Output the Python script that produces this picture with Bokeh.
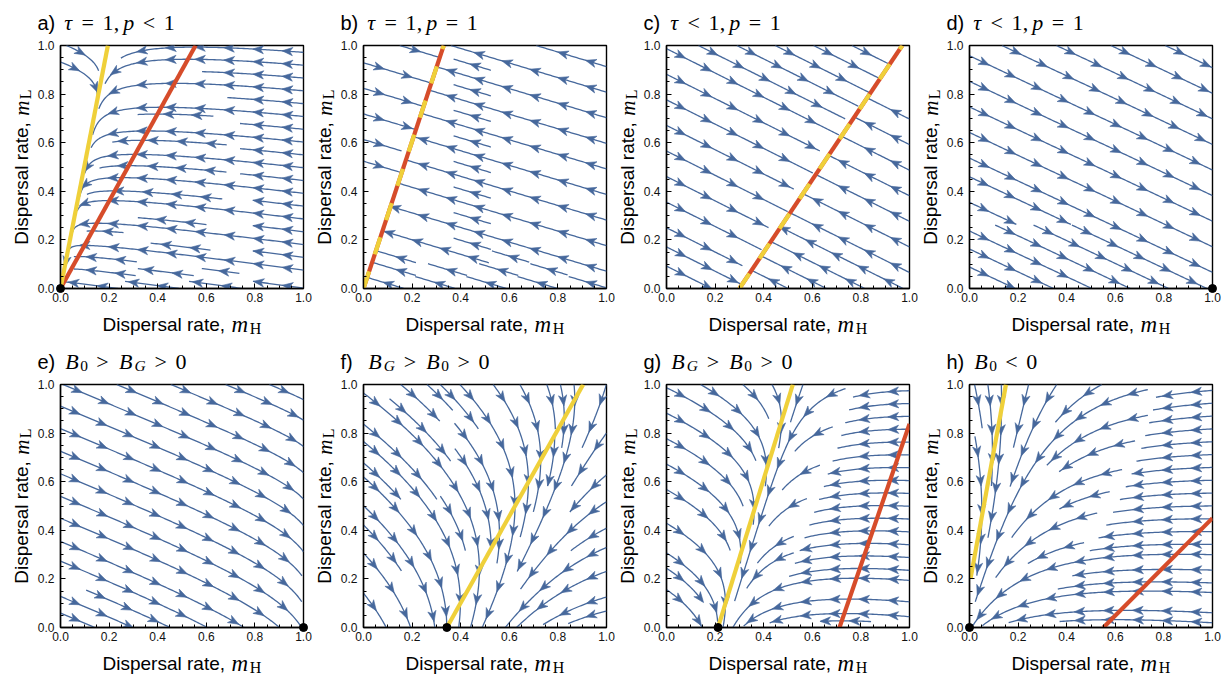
import numpy as np
from math import pi, hypot
from bokeh.plotting import figure
from bokeh.models import Range1d, FixedTicker, PrintfTickFormatter
from bokeh.core.properties import value
from bokeh.layouts import column, row
from bokeh.embed import file_html
from bokeh.resources import INLINE

# ---------------- data ----------------
panel_letters = ["a)", "b)", "c)", "d)", "e)", "f)", "g)", "h)"]

title_tokens = [
    [("τ", "i"), ("=", "r"), ("1", "r"), (",", "r"), ("p", "i"), ("<", "r"), ("1", "r")],
    [("τ", "i"), ("=", "r"), ("1", "r"), (",", "r"), ("p", "i"), ("=", "r"), ("1", "r")],
    [("τ", "i"), ("<", "r"), ("1", "r"), (",", "r"), ("p", "i"), ("=", "r"), ("1", "r")],
    [("τ", "i"), ("<", "r"), ("1", "r"), (",", "r"), ("p", "i"), ("=", "r"), ("1", "r")],
    [("B", "i"), ("0", "sr"), (">", "r"), ("B", "i"), ("G", "si"), (">", "r"), ("0", "r")],
    [("B", "i"), ("G", "si"), (">", "r"), ("B", "i"), ("0", "sr"), (">", "r"), ("0", "r")],
    [("B", "i"), ("G", "si"), (">", "r"), ("B", "i"), ("0", "sr"), (">", "r"), ("0", "r")],
    [("B", "i"), ("0", "sr"), ("<", "r"), ("0", "r")],
]

tick_values = [0.0, 0.2, 0.4, 0.6, 0.8, 1.0]
minor_tick_values = [0.05, 0.1, 0.15, 0.25, 0.3, 0.35, 0.45, 0.5, 0.55,
                     0.65, 0.7, 0.75, 0.85, 0.9, 0.95]

# drawn isoclines (endpoints, m_H and m_L)
yellow_mh = [[0.0, 0.195], [0.0, 0.33], [0.30, 0.97], [], [], [0.343, 0.904], [0.212, 0.52], [0.004, 0.15]]
yellow_ml = [[0.0, 1.0], [0.0, 1.0], [0.0, 1.0], [], [], [0.0, 1.0], [0.0, 1.0], [0.2, 1.0]]
red_mh = [[0.0, 0.556], [0.0, 0.33], [0.30, 0.97], [], [], [], [0.712, 1.0], [0.551, 1.0]]
red_ml = [[0.0, 1.0], [0.0, 1.0], [0.0, 1.0], [], [], [], [0.0, 0.838], [0.0, 0.45]]
dashed_pair = [False, True, True, False, False, False, False, False]

# equilibrium dots
eq_mh = [0.0, None, None, 1.0, 1.0, 0.343, 0.212, 0.0]
eq_ml = [0.0, None, None, 0.0, 0.0, 0.0, 0.0, 0.0]

# vector-field parameters per panel:
#  dm_H/dt = (yel_h0 + yel_slope*m_L - m_H)
#  dm_L/dt = rate_L*(m_H - red_h0 - red_slope*m_L)
#            + coupling*(1-m_L)*m_H + coupling2*(1-m_H)^2*m_L
yel_h0 = [0.0, 0.0, 0.30, 3.0, 1.05, 0.343, 0.212, -0.0365]
yel_slope = [0.195, 0.33, 0.67, 0.0, 0.0, 0.561, 0.308, 0.1825]
red_h0 = [0.0, 0.0, 0.30, 3.0, 1.05, 1.40, 0.712, 0.551]
red_slope = [0.556, 0.33, 0.67, 0.0, 0.0, 0.50, 0.344, 1.0]
rate_L = [0.135, 0.30, 0.50, 0.47, 0.42, 0.36, 0.24, 0.13]
coupling = [0.0, 0.0, 0.0, 0.0, -0.07, 0.0, 0.0, 0.0]
coupling2 = [0.0, 0.0, 0.0, 0.0, 0.0, 0.0, 0.0, -0.4]

# ---------------- styling ----------------
BLUE = "#46689c"
YELLOW = "#efd03a"
RED = "#d64c2a"
SANS = "Liberation Sans"
SERIF = "Liberation Serif"

SANS_W = {'D': .722, 'i': .222, 's': .5, 'p': .556, 'e': .556, 'r': .333, 'a': .556,
          'l': .222, ' ': .278, 't': .278, ',': .278}
CM_W = {"τ": 0.437, "=": 0.778, "1": 0.5, ",": 0.278, "p": 0.503, "<": 0.778, ">": 0.778,
        "0": 0.5, "B": 0.759, "G": 0.786, "m": 0.878, "H": 0.75, "L": 0.625}


def field_uv(k, x, y):
    u = yel_h0[k] + yel_slope[k] * y - x
    v = (rate_L[k] * (x - red_h0[k] - red_slope[k] * y)
         + coupling[k] * (1 - y) * x + coupling2[k] * (1 - x) ** 2 * y)
    return u, v


def cell(v, n):
    return min(max(int(v * n), 0), n - 1)


def trace(k, x0, y0, sign, mask, n, own, ds=0.004, maxlen=2.5):
    pts = [(x0, y0)]
    x, y = x0, y0
    ci, cj = cell(x0, n), cell(y0, n)
    L = 0.0
    pd = None
    while L < maxlen:
        u, v = field_uv(k, x, y)
        s = hypot(u, v)
        if s < 1e-7:
            break
        dx, dy = sign * u / s, sign * v / s
        u2, v2 = field_uv(k, x + 0.5 * ds * dx, y + 0.5 * ds * dy)
        s2 = hypot(u2, v2)
        if s2 < 1e-7:
            break
        dx2, dy2 = sign * u2 / s2, sign * v2 / s2
        if dx * dx2 + dy * dy2 < 0.7:
            break
        if pd is not None and pd[0] * dx2 + pd[1] * dy2 < 0.7:
            break
        xn, yn = x + ds * dx2, y + ds * dy2
        if xn < 0 or xn > 1 or yn < 0 or yn > 1:
            t = 1.0
            if xn < 0: t = min(t, -x / (xn - x))
            if xn > 1: t = min(t, (1 - x) / (xn - x))
            if yn < 0: t = min(t, -y / (yn - y))
            if yn > 1: t = min(t, (1 - y) / (yn - y))
            pts.append((x + t * (xn - x), y + t * (yn - y)))
            L += t * ds
            break
        ni, nj = cell(xn, n), cell(yn, n)
        if (ni, nj) != (ci, cj):
            if mask[nj, ni]:
                break
            mask[nj, ni] = True
            own.append((ni, nj))
            ci, cj = ni, nj
        pts.append((xn, yn))
        x, y = xn, yn
        L += ds
        pd = (dx2, dy2)
    return pts, L


def spiral(n):
    xfirst, yfirst, xlast, ylast = 0, 1, n - 1, n - 1
    x, y = 0, 0
    direction = "right"
    for _ in range(n * n):
        yield x, y
        if direction == "right":
            x += 1
            if x >= xlast:
                xlast -= 1
                direction = "up"
        elif direction == "up":
            y += 1
            if y >= ylast:
                ylast -= 1
                direction = "left"
        elif direction == "left":
            x -= 1
            if x <= xfirst:
                xfirst += 1
                direction = "down"
        else:
            y -= 1
            if y <= yfirst:
                yfirst += 1
                direction = "right"


def streamlines(k, n=19, minlen=0.15):
    mask = np.zeros((n, n), dtype=bool)
    lines = []
    for i, j in spiral(n):
        if mask[j, i]:
            continue
        x0, y0 = (i + 0.5) / n, (j + 0.5) / n
        own = [(i, j)]
        mask[j, i] = True
        f, lf = trace(k, x0, y0, 1, mask, n, own)
        b, lb = trace(k, x0, y0, -1, mask, n, own)
        if lf + lb < minlen:
            for (a, c) in own:
                mask[c, a] = False
            continue
        lines.append(b[::-1] + f[1:])
    return lines


def arrows(k, lines, spacing=0.12, alen=0.044, half=0.017):
    axs, ays = [], []
    for ln in lines:
        arr = np.array(ln)
        seg = np.hypot(np.diff(arr[:, 0]), np.diff(arr[:, 1]))
        cum = np.concatenate([[0], np.cumsum(seg)])
        total = cum[-1]
        if total < spacing:
            marks = [total / 2]
        else:
            marks = list(np.arange(spacing / 2, total - 0.02, spacing))
        for s in marks:
            idx = min(np.searchsorted(cum, s), len(arr) - 1)
            px, py = arr[idx]
            u, v = field_uv(k, px, py)
            sp = hypot(u, v)
            if sp < 1e-7:
                continue
            dx, dy = u / sp, v / sp
            nx, ny = -dy, dx
            tip = (px + 0.6 * alen * dx, py + 0.6 * alen * dy)
            back = (px - 0.4 * alen * dx, py - 0.4 * alen * dy)
            notch = (px - 0.12 * alen * dx, py - 0.12 * alen * dy)
            l = (back[0] + half * nx, back[1] + half * ny)
            r = (back[0] - half * nx, back[1] - half * ny)
            axs.append([tip[0], l[0], notch[0], r[0]])
            ays.append([tip[1], l[1], notch[1], r[1]])
    return axs, ays


def put_text(p, x, y, xo, yo, text, font, italic, size, align, angle=0.0):
    # xo: pixels to the right, yo: pixels upward
    p.text(x=[x], y=[y], text=[text], x_offset=xo, y_offset=-yo,
           text_font=value(font), text_font_style="italic" if italic else "normal",
           text_font_size=f"{size:.1f}px", text_align=align,
           text_baseline="alphabetic", angle=angle, text_color="black",
           level="overlay")


def math_text(p, x, y, xo, yo, text, style, size, angle=0.0):
    put_text(p, x, y, xo, yo, text, SERIF, style in ("i", "si"), size, "center", angle)


def add_title(p, letter, tokens):
    yb = 23
    put_text(p, 0, 1, -23, yb, letter, SANS, False, 20, "left")
    cur = 3.0
    size = 22.0
    for text, style in tokens:
        if style in ("si", "sr"):
            s, drop = size * 0.7, 4.0
        else:
            s, drop = size, 0.0
        rel = text in ("=", "<", ">")
        if rel:
            cur += 0.278 * size
        w = CM_W.get(text, 0.5) * s
        math_text(p, 0, 1, cur + w / 2, yb - drop, text, style, s)
        cur += w
        if rel:
            cur += 0.278 * size
        if text == ",":
            cur += 0.167 * size


def add_axis_label(p, sub, axis):
    sans_size, sub_size = 19, 16
    m_size = 23 if axis == "x" else 21
    txt = "Dispersal rate,"
    w_sans = sum(SANS_W[c] for c in txt + " ") * sans_size
    w_m = 0.878 * m_size * 0.95
    w_sub = CM_W[sub] * sub_size
    total = w_sans + w_m + w_sub
    start = -total / 2
    if axis == "x":
        base = -36
        put_text(p, 0.5, 0, start, base, txt, SANS, False, sans_size, "left")
        math_text(p, 0.5, 0, start + w_sans + w_m / 2, base, "m", "i", m_size)
        math_text(p, 0.5, 0, start + w_sans + w_m + w_sub / 2, base - 4, sub, "r", sub_size)
    else:
        base = -39
        put_text(p, 0, 0.5, base, start, txt, SANS, False, sans_size, "left", angle=pi / 2)
        math_text(p, 0, 0.5, base, start + w_sans + w_m / 2, "m", "i", m_size, angle=pi / 2)
        math_text(p, 0, 0.5, base + 4, start + w_sans + w_m + w_sub / 2, sub, "r", sub_size,
                  angle=pi / 2)


def make_panel(k):
    top_row = k < 4
    first_col = (k % 4) == 0
    left = 60 if first_col else 51
    p = figure(width=left + 243 + 9, height=347 if top_row else 328,
               x_range=Range1d(0, 1), y_range=Range1d(0, 1),
               output_backend="svg", toolbar_location=None,
               min_border_left=left, min_border_right=9,
               min_border_top=45 if top_row else 37,
               min_border_bottom=59 if top_row else 48)
    p.grid.visible = False
    p.outline_line_color = "black"
    p.outline_line_width = 1.4
    p.background_fill_color = "white"
    for ax in (p.xaxis[0], p.yaxis[0]):
        ax.ticker = FixedTicker(ticks=tick_values, minor_ticks=minor_tick_values)
        ax.formatter = PrintfTickFormatter(format="%.1f")
        ax.major_tick_in = 5
        ax.major_tick_out = 0
        ax.minor_tick_in = 3
        ax.minor_tick_out = 0
        ax.major_tick_line_color = "black"
        ax.minor_tick_line_color = "black"
        ax.axis_line_color = "black"
        ax.axis_line_width = 1.4
        ax.major_label_text_font = SANS
        ax.major_label_text_font_size = "12px"
        ax.major_label_text_color = "#111111"
    p.xaxis[0].major_label_standoff = 4
    p.yaxis[0].major_label_standoff = 6

    lines = streamlines(k)
    xs = [[pt[0] for pt in ln[::2]] + [ln[-1][0]] for ln in lines]
    ys = [[pt[1] for pt in ln[::2]] + [ln[-1][1]] for ln in lines]
    p.multi_line(xs, ys, line_color=BLUE, line_width=1.3)
    axs, ays = arrows(k, lines)
    p.patches(axs, ays, fill_color=BLUE, line_color=BLUE, line_width=0.6)

    if red_mh[k]:
        p.line(red_mh[k], red_ml[k], line_color=RED, line_width=4.2)
    if yellow_mh[k]:
        if dashed_pair[k]:
            p.line(yellow_mh[k], yellow_ml[k], line_color=YELLOW, line_width=4.2,
                   line_dash="18 18")
        else:
            p.line(yellow_mh[k], yellow_ml[k], line_color=YELLOW, line_width=4.2)
    if eq_mh[k] is not None:
        p.scatter([eq_mh[k]], [eq_ml[k]], size=8, color="black", level="overlay")

    add_title(p, panel_letters[k], title_tokens[k])
    add_axis_label(p, "H", "x")
    add_axis_label(p, "L", "y")
    return p


panels = [make_panel(k) for k in range(8)]
layout = column(row(*panels[:4]), row(*panels[4:]))
open("out.html", "w").write(file_html(layout, INLINE))
